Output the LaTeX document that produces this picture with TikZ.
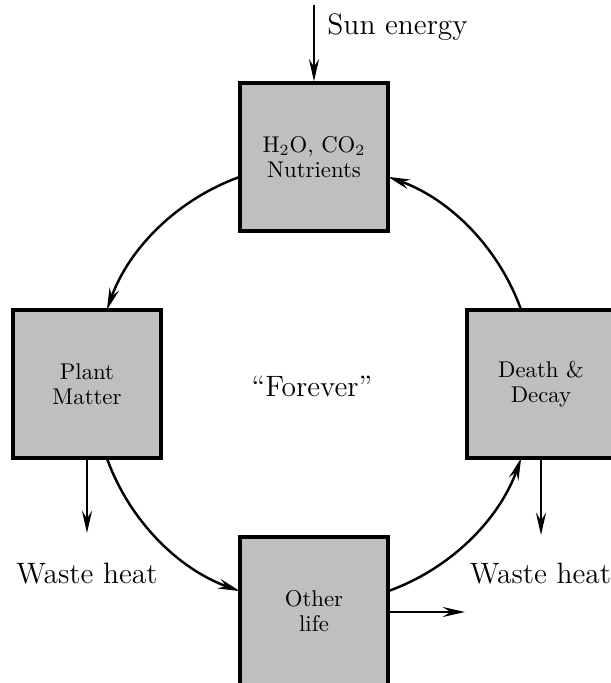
\documentclass[tikz,border=0pt]{standalone}
\usetikzlibrary{arrows.meta}
\begin{document}
\begin{tikzpicture}[x=0.448pt,y=0.448pt,
  box/.style={draw=black,line width=1.5pt,fill=black!25,minimum width=66.3pt,minimum height=66.3pt,inner sep=0pt,align=center,font=\fontsize{10.2}{11}\selectfont},
  flow/.style={line width=1.1pt,-{Stealth[length=10pt,width=4.5pt,inset=3.5pt]}},
  big/.style={font=\fontsize{13.2}{15}\selectfont,inner sep=0pt}]
\useasboundingbox (-314,-299) rectangle (297,384);
\coordinate (C) at (0,0);
\node[box] (top) at (0,227) {H$_2$O, CO$_2$\\Nutrients};
\node[box] (left) at (-227,0) {Plant\\Matter};
\node[box] (right) at (227,0) {Death \&\\Decay};
\node[box] (bot) at (0,-227) {Other\\life};
\node[big] (forever) at (-2,-2) {``Forever''};
% cycle arcs
\coordinate (a1) at (109.67:220);
\coordinate (a2) at (199.67:220);
\coordinate (a3) at (289.67:220);
\coordinate (a4) at (19.67:220);
\draw[flow] (a1) arc[start angle=109.67,end angle=160.33,radius=220];
\draw[flow] (a2) arc[start angle=199.67,end angle=250.33,radius=220];
\draw[flow] (a3) arc[start angle=289.67,end angle=340.33,radius=220];
\draw[flow] (a4) arc[start angle=19.67,end angle=70.33,radius=220];
% sun
\coordinate (sun) at (0,379);
\draw[flow] (sun) -- (top.north);
\node[big,anchor=base west] (sunlbl) at (13,349) {Sun energy};
% waste heat
\coordinate (wl) at (-227,-149);
\coordinate (wr) at (227,-151);
\draw[flow] (left.south) -- (wl);
\draw[flow] (right.south) -- (wr);
\node[big,anchor=base] (wlbl) at (-227,-199) {Waste heat};
\node[big,anchor=base] (wrbl) at (226.5,-199) {Waste heat};
% other life out
\coordinate (ol) at (151,-228);
\draw[flow] (bot.east |- ol) -- (ol);
\end{tikzpicture}
\end{document}
